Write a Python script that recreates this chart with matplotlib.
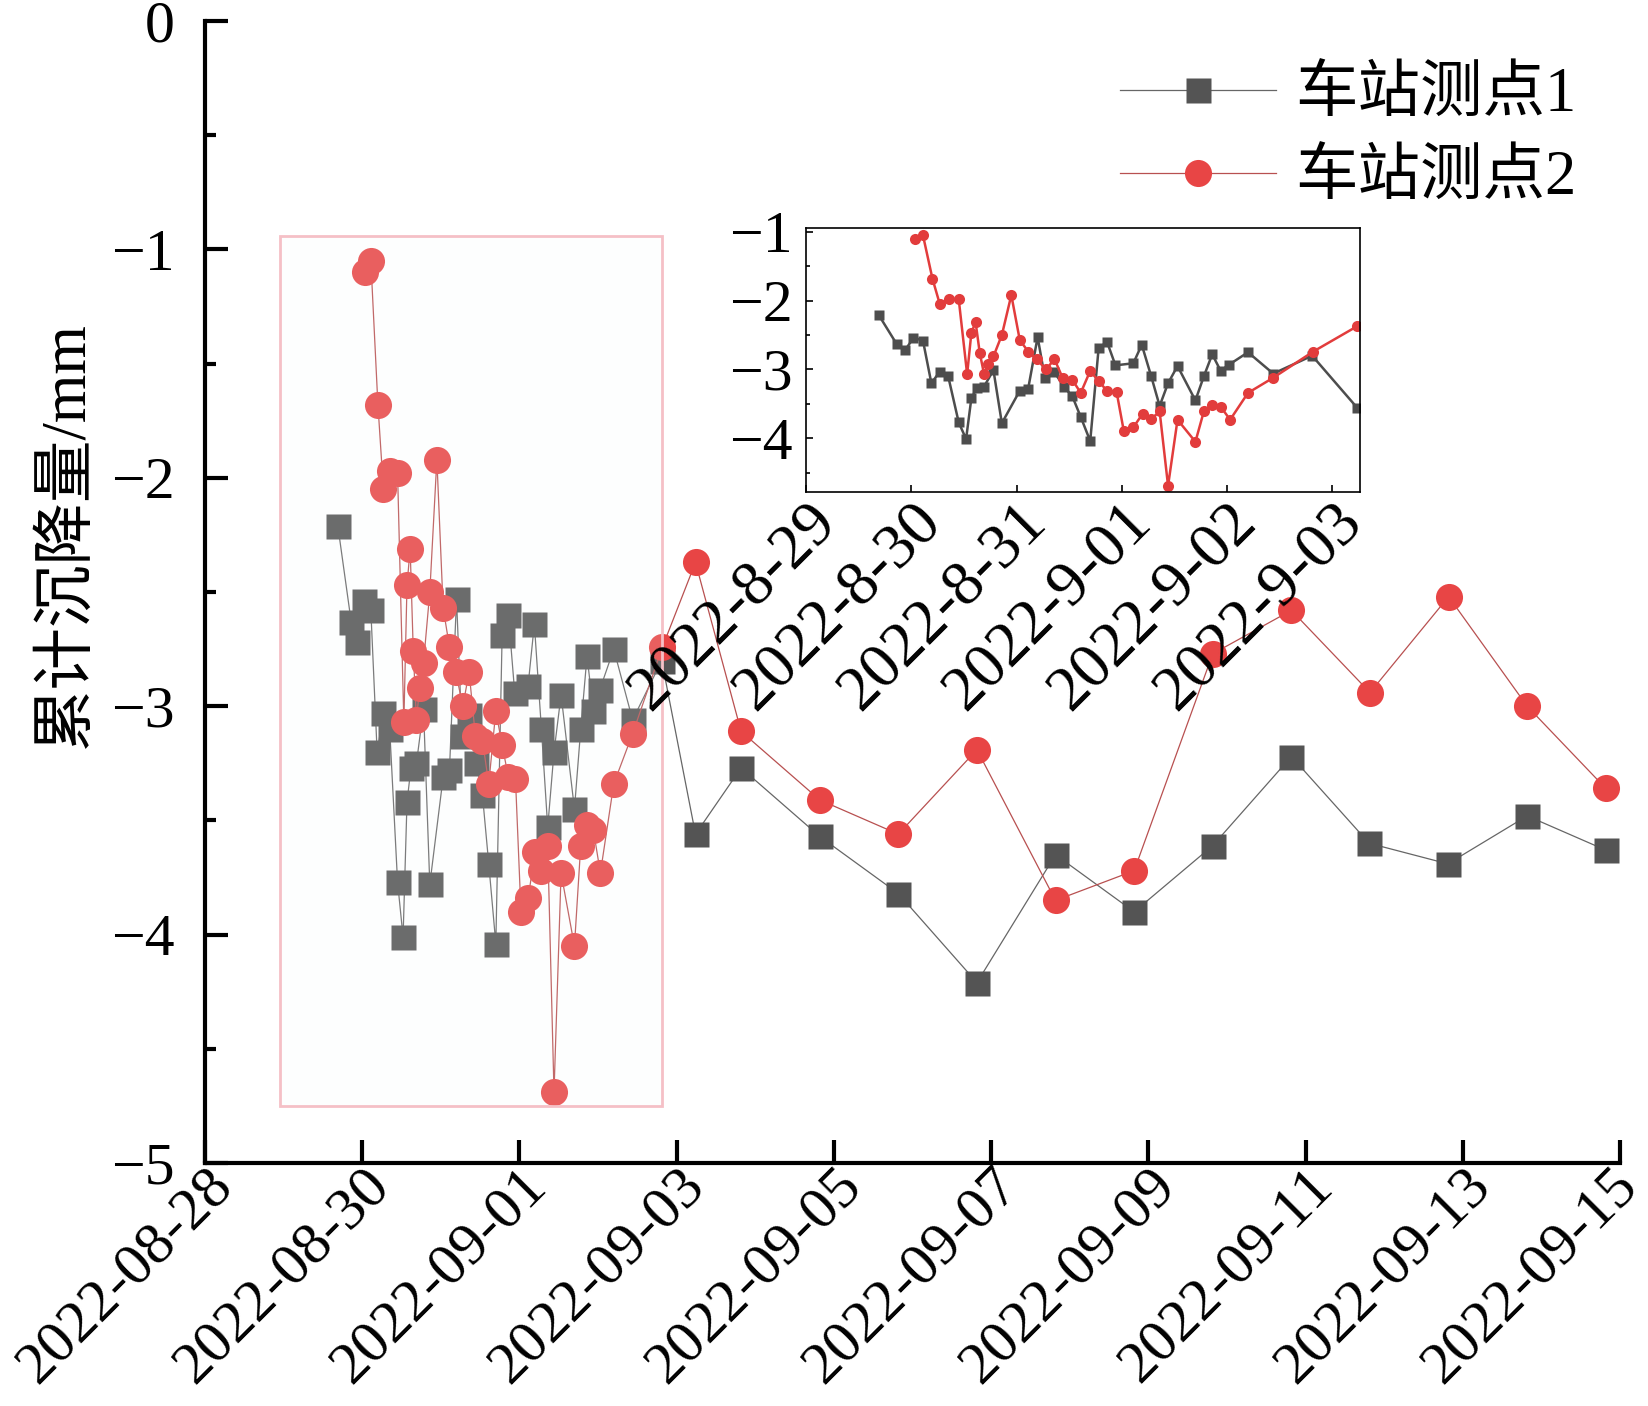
import matplotlib
matplotlib.use('Agg')
import matplotlib.pyplot as plt
import matplotlib.dates as mdates
from matplotlib.patches import Rectangle
from matplotlib.ticker import MultipleLocator, FuncFormatter
from matplotlib.transforms import ScaledTranslation
import pandas as pd

plt.rcParams['font.family'] = ['Liberation Serif', 'Noto Sans CJK SC']
plt.rcParams['axes.unicode_minus'] = True

t0 = pd.Timestamp('2022-08-28')

# time of reading, days after 2022-08-28 00:00
t_p1 = [1.69, 1.86, 1.94, 2.02, 2.11, 2.19, 2.27, 2.35, 2.45, 2.52,
        2.57, 2.62, 2.69, 2.78, 2.86, 3.03, 3.11, 3.20, 3.27, 3.36,
        3.45, 3.53, 3.61, 3.70, 3.78, 3.86, 3.94, 4.11, 4.19, 4.28,
        4.36, 4.44, 4.53, 4.70, 4.78, 4.86, 4.94, 5.02, 5.20, 5.44,
        5.81, 6.24, 6.82, 7.82, 8.82, 9.82, 10.82, 11.82, 12.82, 13.82,
        14.81, 15.81, 16.82, 17.82]
# accumulated settlement, mm
v_p1 = [-2.21, -2.63, -2.72, -2.54, -2.58, -3.20, -3.03, -3.10, -3.77, -4.01,
        -3.42, -3.27, -3.25, -3.01, -3.78, -3.31, -3.28, -2.53, -3.13, -3.04,
        -3.25, -3.39, -3.69, -4.04, -2.69, -2.60, -2.94, -2.91, -2.64, -3.10,
        -3.53, -3.20, -2.95, -3.45, -3.10, -2.78, -3.02, -2.93, -2.75, -3.06,
        -2.80, -3.56, -3.27, -3.57, -3.82, -4.21, -3.65, -3.90, -3.61, -3.22,
        -3.60, -3.69, -3.48, -3.63]

t_p2 = [2.03, 2.11, 2.20, 2.27, 2.36, 2.45, 2.53, 2.57, 2.61, 2.65,
        2.69, 2.73, 2.78, 2.86, 2.95, 3.03, 3.11, 3.19, 3.28, 3.36,
        3.44, 3.53, 3.61, 3.70, 3.78, 3.86, 3.95, 4.02, 4.11, 4.20,
        4.28, 4.36, 4.44, 4.53, 4.70, 4.78, 4.86, 4.94, 5.03, 5.20,
        5.44, 5.82, 6.24, 6.82, 7.82, 8.82, 9.82, 10.82, 11.82, 12.82,
        13.82, 14.82, 15.82, 16.82, 17.82]
v_p2 = [-1.10, -1.05, -1.68, -2.05, -1.97, -1.98, -3.07, -2.47, -2.31, -2.76,
        -3.06, -2.92, -2.81, -2.50, -1.92, -2.57, -2.74, -2.85, -3.00, -2.85,
        -3.13, -3.15, -3.34, -3.02, -3.17, -3.31, -3.32, -3.90, -3.84, -3.64,
        -3.72, -3.61, -4.69, -3.73, -4.05, -3.61, -3.52, -3.54, -3.73, -3.34,
        -3.12, -2.74, -2.37, -3.11, -3.41, -3.56, -3.19, -3.85, -3.72, -2.77,
        -2.58, -2.94, -2.52, -3.00, -3.36]

names = ['车站测点1', '车站测点2']

x1 = t0 + pd.to_timedelta(t_p1, unit='D')
x2 = t0 + pd.to_timedelta(t_p2, unit='D')

FS = 43

fig = plt.figure(figsize=(16.49, 14.06), dpi=100)
ax = fig.add_axes([0.1243, 0.1728, 0.8581, 0.8122])

ax.plot(x1, v_p1, '-', color='#666666', lw=0.9, marker='s', ms=18,
        mfc='#545454', mec='none', label=names[0])
ax.plot(x2, v_p2, '-', color='#b85050', lw=0.9, marker='o', ms=19.5,
        mfc='#e84545', mec='none', label=names[1])

# highlight window that is enlarged in the inset
bx0 = mdates.date2num(t0 + pd.Timedelta(days=0.954))
ax.add_patch(Rectangle((bx0, -4.75), 4.86, 3.81, facecolor=(0.96, 0.975, 0.98, 0.15),
                       edgecolor='#f5c0c6', lw=2, zorder=5))

ax.set_xlim(t0, t0 + pd.Timedelta(days=18))
ax.set_ylim(-5, 0)
ax.set_xticks(pd.date_range('2022-08-28', '2022-09-15', freq='2D'))
ax.xaxis.set_major_formatter(mdates.DateFormatter('%Y-%m-%d'))
ax.yaxis.set_major_locator(MultipleLocator(1))
ax.yaxis.set_minor_locator(MultipleLocator(0.5))
ax.yaxis.set_major_formatter(FuncFormatter(lambda v, p: f'{v:.0f}'.replace('-', '\u2212')))

for s in ['top', 'right']:
    ax.spines[s].set_visible(False)
for s in ['left', 'bottom']:
    ax.spines[s].set_linewidth(3)
ax.tick_params(which='major', direction='in', length=16.5, width=3, labelsize=FS)
ax.tick_params(which='minor', direction='in', length=8, width=3)
ax.tick_params(axis='y', pad=22)
ax.tick_params(axis='x', pad=-3, labelsize=43)
plt.setp(ax.get_xticklabels(), rotation=45, ha='right', va='top', rotation_mode='anchor')
# keep the last date label inside the canvas
last = ax.get_xticklabels()[-1]
last.set_transform(last.get_transform() + ScaledTranslation(-0.1, 0, fig.dpi_scale_trans))

fig.text(0.041, 0.62, '累计沉降量/mm', rotation=90, ha='center', va='center', fontsize=45)

fig.legend(loc='upper left', bbox_to_anchor=(1120 / 1649, 1 - 68 / 1406), frameon=False,
           fontsize=45, handlelength=2.5, handletextpad=0.3, labelspacing=0.4,
           borderpad=0, borderaxespad=0)

# inset: zoom on 08-29 .. 09-03
axin = fig.add_axes([0.4889, 0.6503, 0.3358, 0.1873])
axin.plot(x1, v_p1, '-', color='#4d4d4d', lw=1.8, marker='s', ms=7.5, mec='none')
axin.plot(x2, v_p2, '-', color='#e23c3c', lw=1.8, marker='o', ms=8, mec='none')
axin.set_xlim(t0 + pd.Timedelta(days=1), t0 + pd.Timedelta(days=6.264))
axin.set_ylim(-4.775, -0.95)
axin.set_xticks(pd.date_range('2022-08-29', '2022-09-03', freq='D'))


def inset_date(x, pos):
    d = mdates.num2date(x)
    return f'{d.year}-{d.month}-{d.day:02d}'


axin.xaxis.set_major_formatter(FuncFormatter(inset_date))
axin.yaxis.set_major_locator(MultipleLocator(1))
axin.yaxis.set_minor_locator(MultipleLocator(0.5))
axin.yaxis.set_major_formatter(FuncFormatter(lambda v, p: f'{v:.0f}'.replace('-', '\u2212')))
for s in axin.spines.values():
    s.set_linewidth(1.2)
axin.tick_params(which='major', direction='in', length=5, width=1.2, labelsize=FS)
axin.tick_params(which='minor', direction='in', length=3, width=1.2)
axin.tick_params(axis='y', pad=10)
axin.tick_params(axis='x', pad=1, labelsize=46)
plt.setp(axin.get_xticklabels(), rotation=45, ha='right', va='top', rotation_mode='anchor')

fig.savefig('out.png', dpi=100)
